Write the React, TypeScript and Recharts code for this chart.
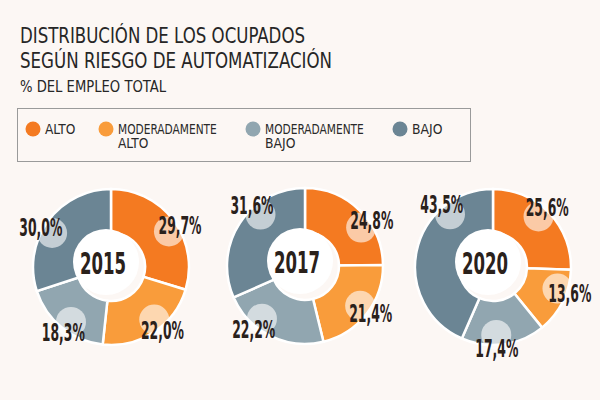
import { PieChart, Pie, Cell } from "recharts";

// Categorías y valores (% del empleo total)
const categories = ["ALTO", "MODERADAMENTE ALTO", "MODERADAMENTE BAJO", "BAJO"];
const years = ["2015", "2017", "2020"];
const values2015 = [29.7, 22.0, 18.3, 30.0];
const values2017 = [24.8, 21.4, 22.2, 31.6];
const values2020 = [25.6, 13.6, 17.4, 43.5];

const series = [values2015, values2017, values2020];

// Estilo y maquetación
const COLORS = ["#f47a21", "#f99c3b", "#91a6b0", "#6b8594"];
const BG = "#fcf7f4";
const INK = "#2a211b";
const CENTERS = [
  { cx: 106, cy: 262 },
  { cx: 300, cy: 261 },
  { cx: 488, cy: 262 },
];
// giro manual (grados, sentido horario) de cada etiqueta respecto a su sector
const LABEL_TURN = [
  [5, -6, -3, -6],
  [11, -2, 13, 16],
  [-4, -8, 5, 39],
];
const LEGEND_X = [33, 106, 253, 400];

const RADIAN = Math.PI / 180;
const NUM_FONT = "'DejaVu Sans Condensed', 'Liberation Sans Narrow', sans-serif";
const TXT_FONT = "'DejaVu Sans Condensed', 'Liberation Sans Narrow', sans-serif";

const fmt = (v: number) => v.toFixed(1).replace(".", ",") + "%";

const makeLabel = (turns: number[]) => (props: any) => {
  const { cx, cy, midAngle, index, value } = props;
  const a = (midAngle - turns[index]) * RADIAN;
  const tx = cx + 81 * Math.cos(a);
  const ty = cy - 81 * Math.sin(a);
  const kx = cx + 68 * Math.cos(a);
  const ky = cy - 68 * Math.sin(a);
  return (
    <g key={`lbl-${index}`}>
      <circle cx={kx} cy={ky} r={15} fill="#ffffff" fillOpacity={0.6} />
      <text
        x={tx}
        y={ty + 9}
        textAnchor="middle"
        fontFamily={NUM_FONT}
        fontWeight="bold"
        fontSize={25}
        textLength={43}
        lengthAdjust="spacingAndGlyphs"
        fill={INK}
      >
        {fmt(value)}
      </text>
    </g>
  );
};

export default function App() {
  return (
    <div
      style={{
        position: "absolute",
        left: 0,
        top: 0,
        width: 600,
        height: 400,
        background: BG,
        overflow: "hidden",
      }}
    >
      <PieChart width={600} height={400}>
        {series.map((vals, s) => (
          <Pie
            key={years[s]}
            data={vals.map((v, i) => ({ name: categories[i], value: v }))}
            dataKey="value"
            nameKey="name"
            cx={CENTERS[s].cx}
            cy={CENTERS[s].cy}
            innerRadius={34}
            outerRadius={78}
            startAngle={90}
            endAngle={-270}
            stroke="#ffffff"
            strokeWidth={2.5}
            label={makeLabel(LABEL_TURN[s])}
            labelLine={false}
            isAnimationActive={false}
          >
            {vals.map((_, i) => (
              <Cell key={i} fill={COLORS[i]} />
            ))}
          </Pie>
        ))}
      </PieChart>

      {/* títulos, leyenda y años en el centro de cada anillo */}
      <svg
        width={600}
        height={400}
        style={{ position: "absolute", left: 0, top: 0, pointerEvents: "none" }}
      >
        <text x={20} y={43} fontFamily={TXT_FONT} fontSize={21} fill="#262626" textLength={285} lengthAdjust="spacingAndGlyphs">
          DISTRIBUCIÓN DE LOS OCUPADOS
        </text>
        <text x={20} y={68} fontFamily={TXT_FONT} fontSize={21} fill="#262626" textLength={312} lengthAdjust="spacingAndGlyphs">
          SEGÚN RIESGO DE AUTOMATIZACIÓN
        </text>
        <text x={20} y={92} fontFamily={TXT_FONT} fontSize={16} fill="#262626" textLength={146} lengthAdjust="spacingAndGlyphs">
          % DEL EMPLEO TOTAL
        </text>

        <rect x={17.5} y={108.5} width={453} height={53} fill="none" stroke="#9a9a9a" strokeWidth={1} />
        {categories.map((c, i) => (
          <g key={c}>
            <circle cx={LEGEND_X[i]} cy={129} r={7.5} fill={COLORS[i]} />
            <text fontFamily={TXT_FONT} fontSize={13.5} fill="#2a2a2a">
              {c.split(" ").map((line, j) => (
                <tspan
                  key={j}
                  x={LEGEND_X[i] + 12}
                  y={134 + j * 14}
                  textLength={line.length * 7.6}
                  lengthAdjust="spacingAndGlyphs"
                >
                  {line}
                </tspan>
              ))}
            </text>
          </g>
        ))}

        {years.map((y, s) => (
          <g key={y}>
            <circle cx={CENTERS[s].cx} cy={CENTERS[s].cy} r={33} fill="#ffffff" />
            <text
              x={CENTERS[s].cx - 3}
              y={CENTERS[s].cy + 12}
              textAnchor="middle"
              fontFamily={NUM_FONT}
              fontWeight="bold"
              fontSize={31}
              textLength={46}
              lengthAdjust="spacingAndGlyphs"
              fill={INK}
            >
              {y}
            </text>
          </g>
        ))}
      </svg>
    </div>
  );
}
